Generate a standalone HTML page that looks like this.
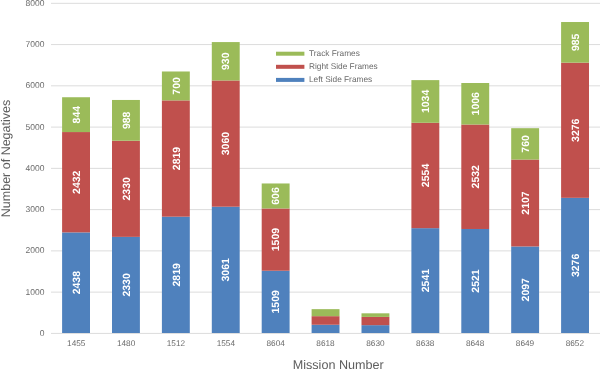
<!DOCTYPE html><html><head><meta charset="utf-8"><style>html,body{margin:0;padding:0;background:#fff;}svg{display:block;}text{text-rendering:geometricPrecision;font-family:"Liberation Sans",sans-serif;}svg{will-change:transform;}</style></head><body>
<svg width="600" height="369" viewBox="0 0 600 369">
<rect width="600" height="369" fill="#fff"/>
<line x1="51" x2="600" y1="333.40" y2="333.40" stroke="#dcdcdc" stroke-width="1"/>
<text x="44.5" y="335.90" font-size="8.5" fill="#6b6b6b" text-anchor="end">0</text>
<line x1="51" x2="600" y1="292.14" y2="292.14" stroke="#dcdcdc" stroke-width="1"/>
<text x="44.5" y="294.64" font-size="8.5" fill="#6b6b6b" text-anchor="end">1000</text>
<line x1="51" x2="600" y1="250.88" y2="250.88" stroke="#dcdcdc" stroke-width="1"/>
<text x="44.5" y="253.38" font-size="8.5" fill="#6b6b6b" text-anchor="end">2000</text>
<line x1="51" x2="600" y1="209.62" y2="209.62" stroke="#dcdcdc" stroke-width="1"/>
<text x="44.5" y="212.12" font-size="8.5" fill="#6b6b6b" text-anchor="end">3000</text>
<line x1="51" x2="600" y1="168.36" y2="168.36" stroke="#dcdcdc" stroke-width="1"/>
<text x="44.5" y="170.86" font-size="8.5" fill="#6b6b6b" text-anchor="end">4000</text>
<line x1="51" x2="600" y1="127.10" y2="127.10" stroke="#dcdcdc" stroke-width="1"/>
<text x="44.5" y="129.60" font-size="8.5" fill="#6b6b6b" text-anchor="end">5000</text>
<line x1="51" x2="600" y1="85.84" y2="85.84" stroke="#dcdcdc" stroke-width="1"/>
<text x="44.5" y="88.34" font-size="8.5" fill="#6b6b6b" text-anchor="end">6000</text>
<line x1="51" x2="600" y1="44.58" y2="44.58" stroke="#dcdcdc" stroke-width="1"/>
<text x="44.5" y="47.08" font-size="8.5" fill="#6b6b6b" text-anchor="end">7000</text>
<line x1="51" x2="600" y1="3.32" y2="3.32" stroke="#dcdcdc" stroke-width="1"/>
<text x="44.5" y="5.82" font-size="8.5" fill="#6b6b6b" text-anchor="end">8000</text>
<rect x="62.10" y="232.41" width="27.9" height="100.59" fill="#4f81bd"/>
<text transform="translate(79.75,282.70) rotate(-90)" font-size="10.5" font-weight="bold" fill="#fff" text-anchor="middle">2438</text>
<rect x="62.10" y="132.06" width="27.9" height="100.34" fill="#c0504d"/>
<text transform="translate(79.75,182.24) rotate(-90)" font-size="10.5" font-weight="bold" fill="#fff" text-anchor="middle">2432</text>
<rect x="62.10" y="97.24" width="27.9" height="34.82" fill="#9bbb59"/>
<text transform="translate(79.75,114.65) rotate(-90)" font-size="10.5" font-weight="bold" fill="#fff" text-anchor="middle">844</text>
<text x="76.25" y="346.2" font-size="8.25" fill="#6b6b6b" text-anchor="middle">1455</text>
<rect x="112.00" y="236.86" width="27.9" height="96.14" fill="#4f81bd"/>
<text transform="translate(129.65,284.93) rotate(-90)" font-size="10.5" font-weight="bold" fill="#fff" text-anchor="middle">2330</text>
<rect x="112.00" y="140.73" width="27.9" height="96.14" fill="#c0504d"/>
<text transform="translate(129.65,188.80) rotate(-90)" font-size="10.5" font-weight="bold" fill="#fff" text-anchor="middle">2330</text>
<rect x="112.00" y="99.96" width="27.9" height="40.76" fill="#9bbb59"/>
<text transform="translate(129.65,120.35) rotate(-90)" font-size="10.5" font-weight="bold" fill="#fff" text-anchor="middle">988</text>
<text x="126.11" y="346.2" font-size="8.25" fill="#6b6b6b" text-anchor="middle">1480</text>
<rect x="161.90" y="216.69" width="27.9" height="116.31" fill="#4f81bd"/>
<text transform="translate(179.55,274.84) rotate(-90)" font-size="10.5" font-weight="bold" fill="#fff" text-anchor="middle">2819</text>
<rect x="161.90" y="100.38" width="27.9" height="116.31" fill="#c0504d"/>
<text transform="translate(179.55,158.53) rotate(-90)" font-size="10.5" font-weight="bold" fill="#fff" text-anchor="middle">2819</text>
<rect x="161.90" y="71.49" width="27.9" height="28.88" fill="#9bbb59"/>
<text transform="translate(179.55,85.94) rotate(-90)" font-size="10.5" font-weight="bold" fill="#fff" text-anchor="middle">700</text>
<text x="175.97" y="346.2" font-size="8.25" fill="#6b6b6b" text-anchor="middle">1512</text>
<rect x="211.80" y="206.70" width="27.9" height="126.30" fill="#4f81bd"/>
<text transform="translate(229.45,269.85) rotate(-90)" font-size="10.5" font-weight="bold" fill="#fff" text-anchor="middle">3061</text>
<rect x="211.80" y="80.45" width="27.9" height="126.26" fill="#c0504d"/>
<text transform="translate(229.45,143.58) rotate(-90)" font-size="10.5" font-weight="bold" fill="#fff" text-anchor="middle">3060</text>
<rect x="211.80" y="42.08" width="27.9" height="38.37" fill="#9bbb59"/>
<text transform="translate(229.45,61.26) rotate(-90)" font-size="10.5" font-weight="bold" fill="#fff" text-anchor="middle">930</text>
<text x="225.83" y="346.2" font-size="8.25" fill="#6b6b6b" text-anchor="middle">1554</text>
<rect x="261.70" y="270.74" width="27.9" height="62.26" fill="#4f81bd"/>
<text transform="translate(279.35,301.87) rotate(-90)" font-size="10.5" font-weight="bold" fill="#fff" text-anchor="middle">1509</text>
<rect x="261.70" y="208.48" width="27.9" height="62.26" fill="#c0504d"/>
<text transform="translate(279.35,239.61) rotate(-90)" font-size="10.5" font-weight="bold" fill="#fff" text-anchor="middle">1509</text>
<rect x="261.70" y="183.47" width="27.9" height="25.00" fill="#9bbb59"/>
<text transform="translate(279.35,195.98) rotate(-90)" font-size="10.5" font-weight="bold" fill="#fff" text-anchor="middle">606</text>
<text x="275.69" y="346.2" font-size="8.25" fill="#6b6b6b" text-anchor="middle">8604</text>
<rect x="311.60" y="324.75" width="27.9" height="8.25" fill="#4f81bd"/>
<rect x="311.60" y="316.17" width="27.9" height="8.58" fill="#c0504d"/>
<rect x="311.60" y="309.15" width="27.9" height="7.01" fill="#9bbb59"/>
<text x="325.55" y="346.2" font-size="8.25" fill="#6b6b6b" text-anchor="middle">8618</text>
<rect x="361.50" y="325.16" width="27.9" height="7.84" fill="#4f81bd"/>
<rect x="361.50" y="316.91" width="27.9" height="8.25" fill="#c0504d"/>
<rect x="361.50" y="313.32" width="27.9" height="3.59" fill="#9bbb59"/>
<text x="375.41" y="346.2" font-size="8.25" fill="#6b6b6b" text-anchor="middle">8630</text>
<rect x="411.40" y="228.16" width="27.9" height="104.84" fill="#4f81bd"/>
<text transform="translate(429.05,280.58) rotate(-90)" font-size="10.5" font-weight="bold" fill="#fff" text-anchor="middle">2541</text>
<rect x="411.40" y="122.78" width="27.9" height="105.38" fill="#c0504d"/>
<text transform="translate(429.05,175.47) rotate(-90)" font-size="10.5" font-weight="bold" fill="#fff" text-anchor="middle">2554</text>
<rect x="411.40" y="80.12" width="27.9" height="42.66" fill="#9bbb59"/>
<text transform="translate(429.05,101.45) rotate(-90)" font-size="10.5" font-weight="bold" fill="#fff" text-anchor="middle">1034</text>
<text x="425.27" y="346.2" font-size="8.25" fill="#6b6b6b" text-anchor="middle">8638</text>
<rect x="461.30" y="228.98" width="27.9" height="104.02" fill="#4f81bd"/>
<text transform="translate(478.95,280.99) rotate(-90)" font-size="10.5" font-weight="bold" fill="#fff" text-anchor="middle">2521</text>
<rect x="461.30" y="124.51" width="27.9" height="104.47" fill="#c0504d"/>
<text transform="translate(478.95,176.75) rotate(-90)" font-size="10.5" font-weight="bold" fill="#fff" text-anchor="middle">2532</text>
<rect x="461.30" y="83.01" width="27.9" height="41.51" fill="#9bbb59"/>
<text transform="translate(478.95,103.76) rotate(-90)" font-size="10.5" font-weight="bold" fill="#fff" text-anchor="middle">1006</text>
<text x="475.13" y="346.2" font-size="8.25" fill="#6b6b6b" text-anchor="middle">8648</text>
<rect x="511.20" y="246.48" width="27.9" height="86.52" fill="#4f81bd"/>
<text transform="translate(528.85,289.74) rotate(-90)" font-size="10.5" font-weight="bold" fill="#fff" text-anchor="middle">2097</text>
<rect x="511.20" y="159.54" width="27.9" height="86.93" fill="#c0504d"/>
<text transform="translate(528.85,203.01) rotate(-90)" font-size="10.5" font-weight="bold" fill="#fff" text-anchor="middle">2107</text>
<rect x="511.20" y="128.19" width="27.9" height="31.36" fill="#9bbb59"/>
<text transform="translate(528.85,143.86) rotate(-90)" font-size="10.5" font-weight="bold" fill="#fff" text-anchor="middle">760</text>
<text x="524.99" y="346.2" font-size="8.25" fill="#6b6b6b" text-anchor="middle">8649</text>
<rect x="561.10" y="197.83" width="27.9" height="135.17" fill="#4f81bd"/>
<text transform="translate(578.75,265.42) rotate(-90)" font-size="10.5" font-weight="bold" fill="#fff" text-anchor="middle">3276</text>
<rect x="561.10" y="62.66" width="27.9" height="135.17" fill="#c0504d"/>
<text transform="translate(578.75,130.25) rotate(-90)" font-size="10.5" font-weight="bold" fill="#fff" text-anchor="middle">3276</text>
<rect x="561.10" y="22.02" width="27.9" height="40.64" fill="#9bbb59"/>
<text transform="translate(578.75,42.34) rotate(-90)" font-size="10.5" font-weight="bold" fill="#fff" text-anchor="middle">985</text>
<text x="574.85" y="346.2" font-size="8.25" fill="#6b6b6b" text-anchor="middle">8652</text>
<rect x="276" y="51.70" width="28.4" height="4.0" fill="#9bbb59"/>
<text x="309.0" y="56" font-size="8.3" fill="#6b6b6b">Track Frames</text>
<rect x="276" y="64.80" width="28.4" height="4.0" fill="#c0504d"/>
<text x="309.0" y="69" font-size="8.3" fill="#6b6b6b">Right Side Frames</text>
<rect x="276" y="77.90" width="28.4" height="4.0" fill="#4f81bd"/>
<text x="309.0" y="82" font-size="8.3" fill="#6b6b6b">Left Side Frames</text>
<text x="338.2" y="368.7" font-size="12.6" fill="#5e5e5e" text-anchor="middle">Mission Number</text>
<text transform="translate(9.7,158.5) rotate(-90)" font-size="12.5" fill="#5e5e5e" text-anchor="middle">Number of Negatives</text>
</svg></body></html>
